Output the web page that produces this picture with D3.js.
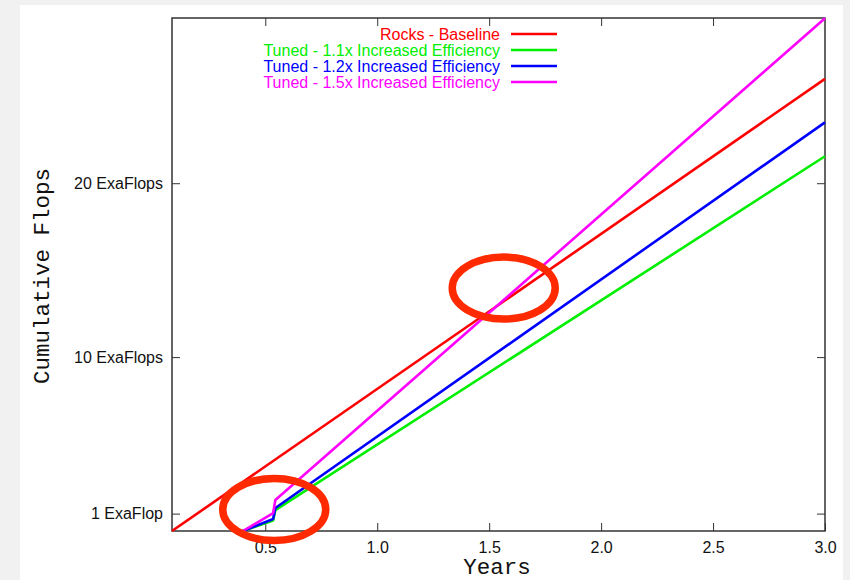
<!DOCTYPE html>
<html>
<head>
<meta charset="utf-8">
<script src="https://cdn.jsdelivr.net/npm/d3@7"></script>
<style>
  body { margin: 0; background: #f1f1f1; }
  svg { display: block; }
  .axis path, .axis line { stroke: #333; }
  .title { font-family: "Liberation Mono", "Courier New", monospace; font-size: 22.5px; fill: #111; }
  .legend text { font-family: "Liberation Sans", Arial, sans-serif; font-size: 16px; }
</style>
</head>
<body>
<div id="chart"></div>
<script>
// series data (years, cumulative exaflops)
const baselineYears = [1 / 12, 3.0];
const baselineFlops = [0, 26.0];

const tunedYears = [0.40, 0.535, 0.545, 3.0];
const tuned11Flops = [0, 0.6, 1.2, 21.55];
const tuned12Flops = [0, 0.69, 1.32, 23.5];
const tuned15Flops = [0, 1.03, 1.78, 29.48];

const seriesNames = [
  "Rocks - Baseline",
  "Tuned - 1.1x Increased Efficiency",
  "Tuned - 1.2x Increased Efficiency",
  "Tuned - 1.5x Increased Efficiency"
];
const seriesColors = ["#ff0000", "#00ee00", "#0000ff", "#ff00ff"];

const xTicks = [0.5, 1.0, 1.5, 2.0, 2.5, 3.0];
const yTicks = [1, 10, 20];
const yTickLabels = ["1 ExaFlop", "10 ExaFlops", "20 ExaFlops"];

// highlighted spots (year, flops)
const markYears = [0.54, 1.565];
const markFlops = [1.24, 13.97];

const width = 850, height = 580;
const margin = { top: 18, right: 25, bottom: 49, left: 172 };
const w = width - margin.left - margin.right,
      h = height - margin.top - margin.bottom;

const svg = d3.select("#chart")
  .append("svg")
  .attr("width", width)
  .attr("height", height);

// white page area
svg.append("rect")
  .attr("x", 20).attr("y", 5)
  .attr("width", 823).attr("height", height - 5)
  .attr("fill", "#fff");

const g = svg.append("g")
  .attr("transform", `translate(${margin.left},${margin.top})`);

const x = d3.scaleLinear().domain([1 / 12, 3.0]).range([0, w]);
const y = d3.scaleLinear().domain([0, 29.5]).range([h, 0]);

const tickFont = a => a
  .attr("font-size", 16)
  .attr("font-family", "'Liberation Sans', Arial, sans-serif")
  .call(s => s.selectAll("text").attr("fill", "#111"))
  .call(s => s.select(".domain").remove());

// axes with inward ticks
g.append("g")
  .attr("class", "axis")
  .attr("transform", `translate(0,${h})`)
  .call(d3.axisBottom(x).tickValues(xTicks).tickFormat(d3.format(".1f"))
    .tickSizeInner(-8).tickSizeOuter(0).tickPadding(11))
  .call(tickFont);

g.append("g")
  .attr("class", "axis")
  .call(d3.axisTop(x).tickValues(xTicks.slice(0, -1)).tickFormat("")
    .tickSizeInner(-8).tickSizeOuter(0))
  .call(tickFont);

g.append("g")
  .attr("class", "axis")
  .call(d3.axisLeft(y).tickValues(yTicks).tickFormat((d, i) => yTickLabels[i])
    .tickSizeInner(-8).tickSizeOuter(0).tickPadding(9))
  .call(tickFont);

g.append("g")
  .attr("class", "axis")
  .attr("transform", `translate(${w},0)`)
  .call(d3.axisRight(y).tickValues(yTicks).tickFormat("")
    .tickSizeInner(-8).tickSizeOuter(0))
  .call(tickFont);

g.append("rect")
  .attr("width", w).attr("height", h)
  .attr("fill", "none")
  .attr("stroke", "#333")
  .attr("stroke-width", 1.5);

// lines
const line = d3.line().x(d => x(d[0])).y(d => y(d[1]));
const series = [
  d3.zip(baselineYears, baselineFlops),
  d3.zip(tunedYears, tuned11Flops),
  d3.zip(tunedYears, tuned12Flops),
  d3.zip(tunedYears, tuned15Flops)
];

g.selectAll(".series")
  .data(series)
  .join("path")
  .attr("class", "series")
  .attr("fill", "none")
  .attr("stroke", (d, i) => seriesColors[i])
  .attr("stroke-width", 2.6)
  .attr("stroke-linejoin", "round")
  .attr("d", line);

// legend
const legend = g.append("g").attr("class", "legend");
const rows = legend.selectAll("g")
  .data(seriesNames)
  .join("g")
  .attr("transform", (d, i) => `translate(0,${16 + i * 16})`);
rows.append("text")
  .attr("x", 328)
  .attr("dy", "0.35em")
  .attr("text-anchor", "end")
  .attr("fill", (d, i) => seriesColors[i])
  .text(d => d);
rows.append("line")
  .attr("x1", 339).attr("x2", 385)
  .attr("stroke", (d, i) => seriesColors[i])
  .attr("stroke-width", 2.6);

// red highlight ellipses
g.selectAll(".mark")
  .data(d3.zip(markYears, markFlops))
  .join("ellipse")
  .attr("class", "mark")
  .attr("cx", d => x(d[0]))
  .attr("cy", d => y(d[1]))
  .attr("rx", 51.5)
  .attr("ry", 31)
  .attr("fill", "none")
  .attr("stroke", "#ff2a00")
  .attr("stroke-width", 7.5);

// axis titles
svg.append("text")
  .attr("class", "title")
  .attr("x", 497)
  .attr("y", 574)
  .attr("text-anchor", "middle")
  .text("Years");

svg.append("text")
  .attr("class", "title")
  .attr("transform", "translate(49,276) rotate(-90)")
  .attr("text-anchor", "middle")
  .text("Cumulative Flops");
</script>
</body>
</html>
